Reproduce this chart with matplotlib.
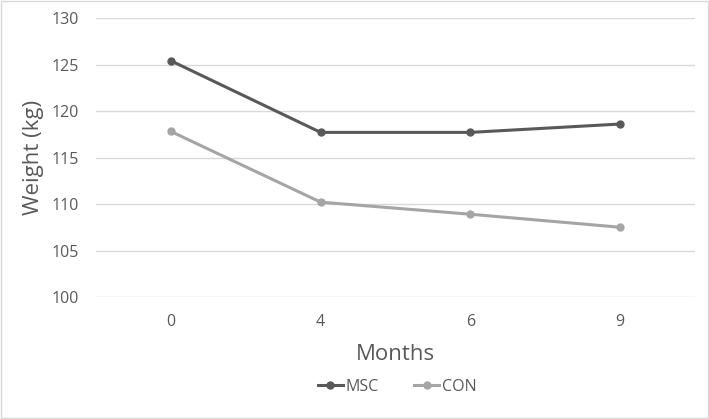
import matplotlib.pyplot as plt
from matplotlib.patches import Rectangle

months = ["0", "4", "6", "9"]
msc = [125.4, 117.7, 117.7, 118.6]
con = [117.8, 110.2, 108.9, 107.5]

plt.rcParams['font.family'] = ['Open Sans', 'DejaVu Sans']
txt = '#595959'

fig = plt.figure(figsize=(7.09, 4.19), dpi=100)
ax = fig.add_axes([96 / 709, 122 / 419, 599 / 709, 279 / 419])
x = range(len(months))
ax.plot(x, msc, color='#595959', lw=2.2, marker='o', ms=5, label='MSC', zorder=3)
ax.plot(x, con, color='#a5a5a5', lw=2.2, marker='o', ms=5, label='CON', zorder=3)

ax.set_xlim(-0.5, 3.5)
ax.set_ylim(100, 130)
ax.set_yticks(range(100, 131, 5))
ax.set_xticks(list(x))
ax.set_xticklabels(months)
ax.grid(axis='y', color='#d9d9d9', lw=1)
ax.set_axisbelow(True)
for s in ax.spines.values():
    s.set_visible(False)
ax.tick_params(length=0, labelsize=11.5, colors=txt, pad=12)
ax.tick_params(axis='y', pad=12)
ax.set_xlabel('Months', fontsize=16, color=txt, labelpad=10)
ax.set_ylabel('Weight (kg)', fontsize=16, color=txt, labelpad=6)

fig.legend(loc='center', bbox_to_anchor=(397 / 709, 1 - 387 / 419), ncol=2,
           frameon=False, fontsize=11.5, labelcolor=txt, handlelength=1.6,
           columnspacing=2.2, handletextpad=0.15)

fig.patches.append(Rectangle((0.002, 0.002), 0.996, 0.996, transform=fig.transFigure,
                             fill=False, edgecolor='#d9d9d9', lw=1))
fig.savefig('out.png', dpi=100)
